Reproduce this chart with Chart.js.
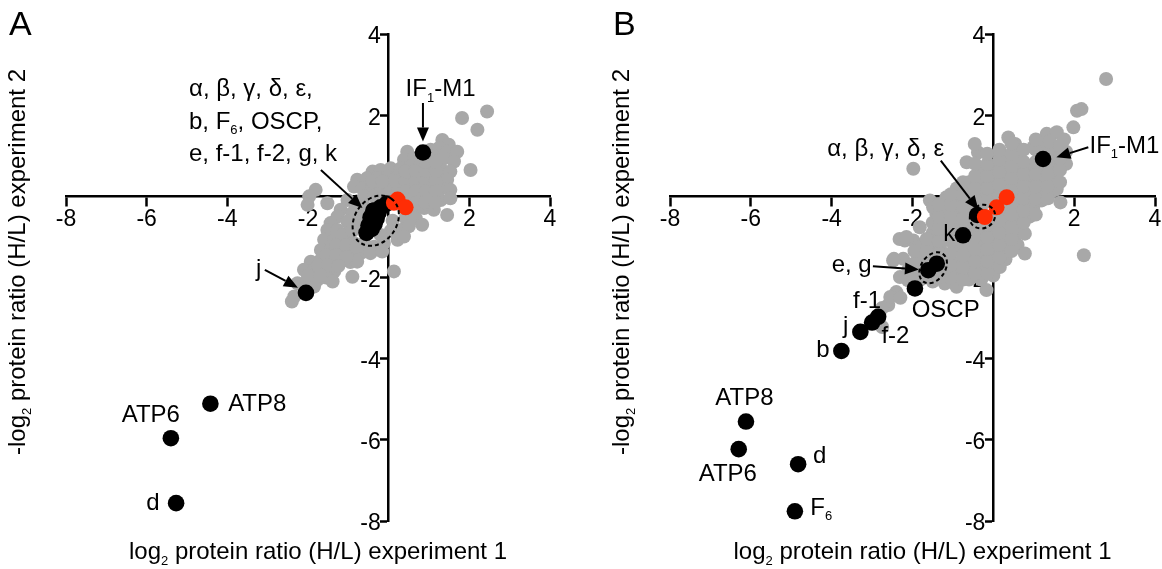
<!doctype html>
<html lang="en">

<head>
  <meta charset="utf-8">
  <title>H/L protein ratio, experiment 1 vs 2</title>
  <script src="https://cdn.jsdelivr.net/npm/chart.js@4.4.1/dist/chart.umd.min.js"></script>
  <style>
    html, body { margin: 0; padding: 0; overflow: hidden; background: #fff; }
    body { position: relative; width: 1162px; height: 569px; }
    canvas { position: absolute; top: 0; }
  </style>
</head>

<body>
  <canvas id="chartA" width="620" height="569" style="left:0"></canvas>
  <canvas id="chartB" width="620" height="569" style="left:605px"></canvas>

  <script>
    // ---- panel A values (x = exp 1, y = exp 2) ----
    const greyA = [
      [2.44, 2.09], [1.82, 1.93], [2.20, 1.64], [1.33, 1.39], [1.49, 1.27],
      [0.46, 1.10], [1.04, 1.15], [1.25, 1.19], [1.45, 1.10], [1.70, 1.10],
      [0.38, 0.90], [0.63, 0.94], [0.88, 0.96], [1.12, 0.98], [1.37, 0.94], [1.62, 0.86],
      [-0.40, 0.61], [-0.20, 0.65], [0.05, 0.69], [0.30, 0.69], [0.55, 0.74], [0.79, 0.74],
      [1.04, 0.69], [1.29, 0.69], [1.53, 0.61], [2.03, 0.65],
      [-0.78, 0.41], [-0.53, 0.45], [-0.28, 0.45], [-0.03, 0.49], [0.22, 0.49], [0.46, 0.49],
      [0.71, 0.49], [0.96, 0.45], [1.20, 0.49], [1.45, 0.41],
      [-1.81, 0.16], [-0.86, 0.24], [-0.65, 0.20], [-0.40, 0.24], [-0.20, 0.24], [0.05, 0.24],
      [0.30, 0.24], [0.55, 0.24], [0.79, 0.24], [1.04, 0.24], [1.29, 0.20], [1.53, 0.16],
      [-1.97, 0.00], [-1.52, -0.17], [-1.02, -0.09], [-0.82, -0.21], [-0.61, 0.00], [-0.36, 0.00],
      [-0.12, 0.00], [0.13, 0.00], [0.38, 0.02], [0.55, 0.00], [0.79, -0.05], [1.04, -0.05],
      [1.29, -0.09], [1.53, -0.05],
      [-2.01, -0.21], [-1.19, -0.33], [-0.90, -0.41], [-0.61, -0.25], [0.63, -0.29], [0.88, -0.29],
      [1.12, -0.33], [1.45, -0.46],
      [-1.27, -0.50], [-1.44, -0.66], [-1.02, -0.62], [-0.69, -0.50], [0.42, -0.54], [0.67, -0.54],
      [0.83, -0.70], [0.10, -0.60],
      [-1.52, -0.83], [-1.27, -0.83], [-1.02, -0.91], [-0.78, -0.74], [0.30, -0.83], [0.50, -0.74],
      [0.05, -0.85], [-0.20, -0.95],
      [-1.60, -1.07], [-1.35, -1.07], [-1.11, -1.11], [-0.86, -1.15], [-0.61, -1.15], [-0.36, -1.24],
      [-0.12, -1.15], [0.22, -1.07], [0.38, -0.99],
      [-1.68, -1.32], [-1.44, -1.32], [-1.19, -1.32], [-0.94, -1.40], [-0.69, -1.40], [-0.45, -1.40],
      [-0.16, -1.36],
      [-1.93, -1.61], [-1.68, -1.56], [-1.44, -1.56], [-1.19, -1.61], [-0.95, -1.62], [-0.78, -1.61],
      [-2.10, -1.81], [-1.85, -1.81], [-1.60, -1.81], [-1.35, -1.85], [-0.90, -1.98], [0.13, -1.85],
      [-2.26, -2.14], [-2.01, -2.06], [-1.77, -2.06], [-1.55, -2.00], [-1.39, -2.10],
      [-2.34, -2.47], [-2.40, -2.59], [-1.85, -2.22],
      // filled middle of the band
      [-0.40, 0.37], [-0.15, 0.37], [0.17, 0.37], [0.42, 0.37], [0.67, 0.37], [0.92, 0.37], [1.17, 0.37],
      [0.42, 0.12], [0.67, 0.12], [0.92, 0.12], [1.17, 0.12],
      [0.42, 0.62], [0.67, 0.62], [0.92, 0.62], [1.17, 0.62], [0.92, 0.85], [1.17, 0.85],
      [0.70, -0.15], [0.90, -0.15], [1.15, -0.15],
      [-1.15, -0.95], [-0.90, -0.85], [-1.30, -1.20], [-1.05, -1.20], [-0.80, -1.25],
      [-1.55, -1.45], [-1.30, -1.45], [-1.05, -1.50], [-1.75, -1.70], [-1.50, -1.70], [-1.25, -1.72],
      [-2.00, -1.95], [-1.70, -1.95]
    ];
    const blackA = [
      [0.85, 1.08], [-2.05, -2.38], [-4.42, -5.11], [-5.40, -5.96], [-5.27, -7.56],
      [-0.55, -0.90], [-0.50, -0.72], [-0.45, -0.52], [-0.38, -0.35], [-0.20, -0.27],
      [-0.05, -0.18], [-0.30, -0.55], [-0.25, -0.40], [-0.42, -0.80], [-0.35, -0.68]
    ];
    const redA = [[0.13, -0.16], [0.22, -0.08], [0.42, -0.27]];

    // ---- panel B values ----
    const greyB = [
      [-2.40, -2.36], [-2.60, -2.68], [-2.55, -2.48], [-2.30, -2.50], [-2.75, -2.75], [-2.75, -3.22],
      [-2.11, -2.07], [-2.31, -1.99], [-2.10, -1.80], [-2.23, -1.54], [-2.48, -1.58], [-2.46, -1.54],
      [-2.19, -1.09], [-1.98, -1.09], [-2.32, -1.05], [-2.15, -1.00],
      [-1.80, -2.05], [-1.80, -1.45], [-1.85, -1.25], [-1.82, -0.76], [-1.98, 0.68],
      [-1.50, -2.10], [-1.55, -1.50], [-1.50, -1.20], [-1.50, -0.90], [-1.41, -0.43], [-1.57, -0.10],
      [-1.50, -0.65], [-1.49, -0.27],
      [-1.20, -2.15], [-1.20, -1.85], [-1.20, -1.55], [-1.32, -1.25], [-1.20, -0.95], [-1.20, -0.65],
      [-1.25, -0.35], [-1.16, -0.02],
      [-0.91, -2.23], [-0.90, -1.90], [-0.91, -1.66], [-0.90, -1.30], [-0.90, -1.00], [-0.90, -0.70],
      [-0.90, -0.40], [-0.90, -0.10], [-0.90, 0.20],
      [-0.60, -2.05], [-0.60, -1.75], [-0.60, -1.45], [-0.60, -1.15], [-0.60, -0.85], [-0.60, -0.55],
      [-0.60, -0.25], [-0.60, 0.05], [-0.60, 0.35], [-0.66, 0.84],
      [-0.30, -2.05], [-0.30, -1.75], [-0.30, -1.45], [-0.30, -1.15], [-0.30, -0.85], [-0.30, -0.25],
      [-0.30, 0.05], [-0.30, 0.35], [-0.30, 0.65], [-0.38, 1.08], [-0.46, 1.29],
      [0.00, -1.95], [0.00, -1.65], [0.00, -1.35], [0.00, -1.05], [0.00, -0.75], [0.00, -0.45],
      [0.00, -0.15], [0.00, 0.15], [0.00, 0.45], [0.00, 0.75], [0.16, 1.04],
      [-0.17, -2.31], [0.30, -1.55], [0.30, -1.25], [0.30, -0.95], [0.30, -0.65], [0.30, -0.35],
      [0.30, 0.25], [0.30, 0.55], [0.30, 0.85], [0.37, 1.45],
      [0.16, -1.74], [0.60, -1.20], [0.60, -0.90], [0.60, -0.60], [0.60, -0.30], [0.60, 0.00],
      [0.60, 0.30], [0.60, 0.60], [0.60, 0.90], [0.54, 1.29],
      [0.78, -0.92], [0.78, -1.41], [0.53, -1.17], [0.90, -0.50], [0.90, -0.20], [0.90, 0.10],
      [0.90, 0.40], [0.90, 0.70], [0.99, 1.21],
      [0.99, -0.27], [1.20, -0.10], [1.20, 0.10], [1.20, 0.40], [1.20, 0.70], [1.20, 1.30],
      [1.50, 0.15], [1.48, 0.47], [1.50, 0.75], [1.50, 1.05], [1.32, 1.54], [1.57, 1.58],
      [1.57, 0.18], [1.66, -0.15], [1.80, 0.80], [1.80, 1.10], [1.75, 1.40],
      [1.98, 1.70], [2.07, 2.11], [2.18, 2.15], [2.79, 2.89], [2.24, -1.45],
      // filled middle of the cloud
      [-1.95, -1.95], [-1.95, -1.65], [-1.95, -1.35],
      [-1.65, -1.95], [-1.65, -1.65], [-1.65, -1.35], [-1.65, -1.05],
      [-1.35, -2.00], [-1.35, -1.70], [-1.35, -1.40], [-1.35, -1.10], [-1.35, -0.80], [-1.35, -0.50], [-1.35, -0.20],
      [-1.05, -2.00], [-1.05, -1.70], [-1.05, -1.40], [-1.05, -1.10], [-1.05, -0.80], [-1.05, -0.50],
      [-1.05, -0.20], [-1.05, 0.05],
      [-0.75, -2.05], [-0.75, -1.75], [-0.75, -1.45], [-0.75, -1.15], [-0.75, -0.85], [-0.75, -0.55],
      [-0.75, -0.25], [-0.75, 0.05], [-0.75, 0.35],
      [-0.45, -1.90], [-0.45, -1.60], [-0.45, -1.30], [-0.45, -1.00], [-0.45, -0.70], [-0.45, -0.10],
      [-0.45, 0.20], [-0.45, 0.50], [-0.45, 0.80],
      [-0.15, -1.90], [-0.15, -1.60], [-0.15, -1.30], [-0.15, -1.00], [-0.15, -0.70], [-0.15, -0.10],
      [-0.15, 0.20], [-0.15, 0.50], [-0.15, 0.80], [-0.15, 1.05],
      [0.15, -1.50], [0.15, -1.20], [0.15, -0.90], [0.15, -0.60], [0.15, -0.30], [0.15, 0.00],
      [0.15, 0.30], [0.15, 0.60], [0.15, 0.90], [0.15, 1.15],
      [0.45, -1.35], [0.45, -1.05], [0.45, -0.75], [0.45, -0.45], [0.45, -0.15], [0.45, 0.15],
      [0.45, 0.45], [0.45, 0.75], [0.45, 1.05], [0.45, 1.30],
      [0.75, -0.65], [0.75, -0.35], [0.75, -0.05], [0.75, 0.25], [0.75, 0.55], [0.75, 0.85], [0.75, 1.15],
      [1.05, -0.45], [1.05, -0.05], [1.05, 0.25], [1.05, 0.55], [1.05, 0.85], [1.05, 1.15], [1.05, 1.40],
      [1.35, -0.05], [1.35, 0.25], [1.35, 0.55], [1.35, 0.85], [1.35, 1.15], [1.40, 1.35],
      [1.65, 0.35], [1.65, 0.65], [1.65, 0.95], [1.65, 1.25]
    ];
    const blackB = [
      [1.23, 0.92], [-0.40, -0.46], [-0.75, -0.96], [-1.40, -1.66], [-1.61, -1.82],
      [-1.94, -2.27], [-2.85, -2.97], [-3.00, -3.11], [-3.29, -3.34], [-3.76, -3.81],
      [-6.12, -5.55], [-6.30, -6.23], [-4.83, -6.60], [-4.91, -7.76]
    ];
    const redB = [[-0.21, -0.51], [0.08, -0.27], [0.33, -0.02]];

    // annotation text: [text, x, y]; "_c" marks a subscript character
    const labelsA = [
      ['IF_1-M1', 0.42, 2.46],
      ['α, β, γ, δ, ε,', -4.95, 2.48],
      ['b, F_6, OSCP,', -4.95, 1.67],
      ['e, f-1, f-2, g, k', -4.95, 0.86],
      ['j', -3.29, -1.96],
      ['ATP8', -3.98, -5.30],
      ['ATP6', -6.62, -5.57],
      ['d', -6.01, -7.72]
    ];
    const labelsB = [
      ['IF_1-M1', 2.38, 1.08],
      ['α, β, γ, δ, ε', -4.11, 1.0],
      ['k', -1.24, -1.09],
      ['e, g', -4.0, -1.86],
      ['OSCP', -2.02, -2.97],
      ['f-1', -3.47, -2.74],
      ['f-2', -2.77, -3.62],
      ['j', -3.72, -3.37],
      ['b', -4.38, -3.95],
      ['ATP8', -6.88, -5.14],
      ['ATP6', -7.29, -7.02],
      ['d', -4.46, -6.56],
      ['F_6', -4.53, -7.84]
    ];
    // arrows: [x from, y from, x to, y to]
    const arrowsA = [[0.85, 2.30, 0.85, 1.35], [-1.68, 0.65, -0.65, -0.29], [-3.07, -1.81, -2.25, -2.25]];
    const arrowsB = [[2.35, 1.21, 1.56, 0.96], [-1.30, 0.88, -0.37, -0.33], [-2.98, -1.72, -1.84, -1.80]];
    // dashed rings round grouped subunits: [x, y]
    const ringsA = [[-0.32, -0.60]];
    const ringsB = [[-0.27, -0.50], [-1.49, -1.76]];

    const xTitle = 'log_2 protein ratio (H/L) experiment 1';
    const yTitle = '-log_2 protein ratio (H/L) experiment 2';

    const FONT = '"Liberation Sans", Arial, Helvetica, sans-serif';
    const GREY = '#a8a8a8';
    const RED = 'rgb(255, 45, 5)';
    // ring shape in px: [half long axis, half short axis, tilt]
    const ringShapeA = [[27, 21, -0.96]];
    const ringShapeB = [[13, 11.5, -0.5], [17, 12, -0.96]];

    function toXY(list) {
      return list.map(p => ({ x: p[0], y: p[1] }));
    }

    function drawRich(ctx, str, x, y, size, align) {
      const parts = [];
      for (let i = 0; i < str.length; i++) {
        if (str[i] === '_') {
          parts.push({ t: str[i + 1], sub: true });
          i++;
        } else if (parts.length && !parts[parts.length - 1].sub) {
          parts[parts.length - 1].t += str[i];
        } else {
          parts.push({ t: str[i], sub: false });
        }
      }
      const big = size + 'px ' + FONT;
      const small = Math.round(size * 0.56) + 'px ' + FONT;
      let w = 0;
      parts.forEach(p => {
        ctx.font = p.sub ? small : big;
        p.w = ctx.measureText(p.t).width;
        w += p.w;
      });
      let cx = align === 'center' ? x - w / 2 : x;
      ctx.textAlign = 'left';
      ctx.textBaseline = 'alphabetic';
      parts.forEach(p => {
        ctx.font = p.sub ? small : big;
        ctx.fillText(p.t, cx, p.sub ? y + size * 0.24 : y);
        cx += p.w;
      });
    }

    function arrow(ctx, x1, y1, x2, y2) {
      const a = Math.atan2(y2 - y1, x2 - x1);
      const L = 14, W = 6;
      const bx = x2 - L * Math.cos(a), by = y2 - L * Math.sin(a);
      ctx.beginPath();
      ctx.moveTo(x1, y1);
      ctx.lineTo(bx, by);
      ctx.stroke();
      ctx.beginPath();
      ctx.moveTo(x2, y2);
      ctx.lineTo(bx - W * Math.sin(a), by + W * Math.cos(a));
      ctx.lineTo(bx + W * Math.sin(a), by - W * Math.cos(a));
      ctx.closePath();
      ctx.fill();
    }

    const annotate = {
      id: 'annotate',
      // y tick labels sit left of the crossing axis, under the points
      beforeDatasetsDraw(chart) {
        const { ctx } = chart;
        const sx = chart.scales.x, sy = chart.scales.y;
        const x0 = sx.getPixelForValue(0) - 8;
        ctx.save();
        ctx.fillStyle = '#000';
        ctx.font = '23px ' + FONT;
        ctx.textAlign = 'right';
        ctx.textBaseline = 'middle';
        sy.ticks.forEach(t => {
          if (t.value !== 0) ctx.fillText(String(t.value), x0, sy.getPixelForValue(t.value) + 3);
        });
        ctx.restore();
      },
      afterDatasetsDraw(chart, args, o) {
        const { ctx, chartArea: area } = chart;
        const sx = chart.scales.x, sy = chart.scales.y;
        ctx.save();
        ctx.fillStyle = '#000';
        ctx.strokeStyle = '#000';

        ctx.lineWidth = 2;
        ctx.setLineDash([4, 3]);
        o.rings.forEach((r, i) => {
          const s = o.ringShape[i];
          ctx.beginPath();
          ctx.ellipse(sx.getPixelForValue(r[0]), sy.getPixelForValue(r[1]), s[0], s[1], s[2], 0, Math.PI * 2);
          ctx.stroke();
        });
        ctx.setLineDash([]);

        o.arrows.forEach(a => {
          arrow(ctx, sx.getPixelForValue(a[0]), sy.getPixelForValue(a[1]),
            sx.getPixelForValue(a[2]), sy.getPixelForValue(a[3]));
        });

        o.labels.forEach(l => {
          drawRich(ctx, l[0], sx.getPixelForValue(l[1]), sy.getPixelForValue(l[2]), 24, 'left');
        });

        // axis titles and panel letter
        drawRich(ctx, xTitle, (area.left + area.right) / 2 + 10, area.bottom + 38, 24, 'center');
        ctx.save();
        ctx.translate(area.left - 41, area.top + 228);
        ctx.rotate(-Math.PI / 2);
        drawRich(ctx, yTitle, 0, 0, 24, 'center');
        ctx.restore();
        ctx.font = '34px ' + FONT;
        ctx.fillText(o.letter, area.left - 57, area.top + 1);
        ctx.restore();
      }
    };

    function axis(other, tickLen, showLabels) {
      return {
        type: 'linear',
        position: { [other]: 0 },
        min: -8,
        max: 4,
        ticks: {
          display: showLabels,
          stepSize: 2,
          autoSkip: false,
          maxRotation: 0,
          padding: 1,
          color: '#000',
          font: { family: FONT, size: 23 },
          callback: v => (v === 0 ? '' : String(v))
        },
        grid: {
          display: true,
          drawOnChartArea: false,
          drawTicks: true,
          tickLength: tickLen,
          tickWidth: 2.5,
          tickColor: '#000'
        },
        border: { display: true, color: '#000', width: 2.5 }
      };
    }

    function makeChart(id, grey, black, red, extra, pad) {
      return new Chart(document.getElementById(id), {
        type: 'scatter',
        data: {
          datasets: [
            { data: toXY(red), backgroundColor: RED, pointRadius: 8, pointBorderWidth: 0 },
            { data: toXY(black), backgroundColor: '#000', pointRadius: 8.3, pointBorderWidth: 0 },
            { data: toXY(grey), backgroundColor: GREY, pointRadius: 7, pointBorderWidth: 0 }
          ]
        },
        options: {
          responsive: false,
          animation: false,
          events: [],
          layout: { padding: pad },
          scales: { x: axis('y', 9, true), y: axis('x', 7, false) },
          plugins: {
            legend: { display: false },
            tooltip: { enabled: false },
            annotate: extra
          }
        },
        plugins: [annotate]
      });
    }

    makeChart('chartA', greyA, blackA, redA,
      { labels: labelsA, arrows: arrowsA, rings: ringsA, ringShape: ringShapeA, letter: 'A' },
      { left: 66, right: 70, top: 34, bottom: 48 });
    makeChart('chartB', greyB, blackB, redB,
      { labels: labelsB, arrows: arrowsB, rings: ringsB, ringShape: ringShapeB, letter: 'B' },
      { left: 65, right: 70, top: 34, bottom: 48 });
  </script>
</body>

</html>
